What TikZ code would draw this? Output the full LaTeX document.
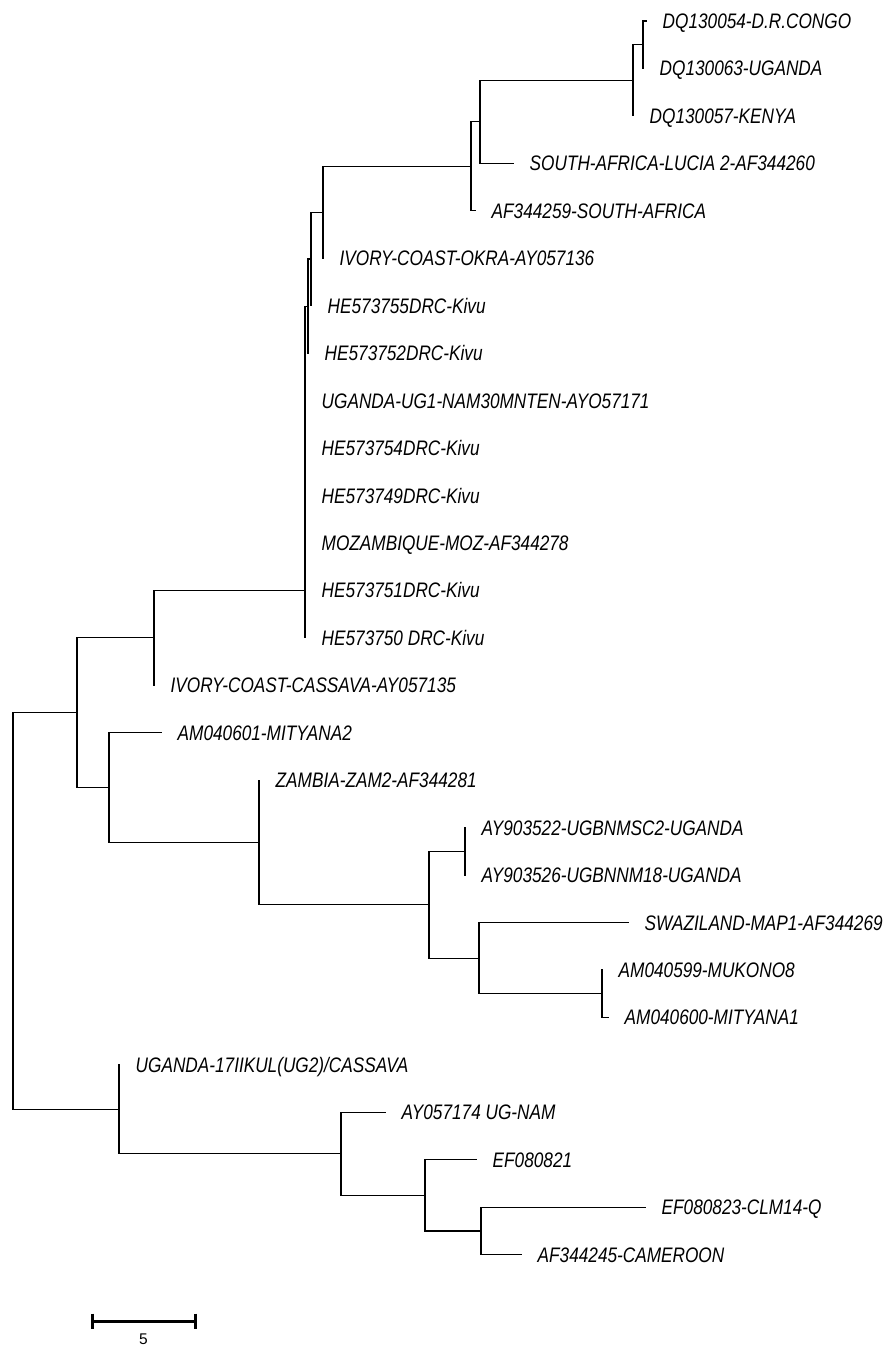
\documentclass[tikz,border=0pt]{standalone}
\usepackage{fontspec}
\setmainfont{Liberation Sans}
\newfontfamily\lblfont{Liberation Sans}[FakeStretch=0.82]
\newcommand\tipleaf[4]{%
  \coordinate (l#1) at (#2,#3);
  \node[lbl] (t#1) at ([xshift=16.5pt,yshift=-7.5pt]l#1) {#4};}
\tikzset{
  br/.style={line width=1.1pt, line cap=rect},
  lbl/.style={anchor=base west, inner sep=0pt, font=\lblfont\itshape\fontsize{21}{24}\selectfont},
  sbar/.style={line width=3pt},
}
\begin{document}
\begin{tikzpicture}[x=1pt,y=-1pt]
\useasboundingbox (0,0) rectangle (884,1345);
\fill[white] (0,0) rectangle (884,1345);
% leaves
\tipleaf{0}{646}{21.0}{DQ130054-D.R.CONGO}
\tipleaf{1}{643}{68.45}{DQ130063-UGANDA}
\tipleaf{2}{633}{115.9}{DQ130057-KENYA}
\tipleaf{3}{513}{163.35}{SOUTH-AFRICA-LUCIA 2-AF344260}
\tipleaf{4}{475}{210.8}{AF344259-SOUTH-AFRICA}
\tipleaf{5}{323}{258.25}{IVORY-COAST-OKRA-AY057136}
\tipleaf{6}{311}{305.7}{HE573755DRC-Kivu}
\tipleaf{7}{308}{353.15}{HE573752DRC-Kivu}
\tipleaf{8}{305}{400.6}{UGANDA-UG1-NAM30MNTEN-AYO57171}
\tipleaf{9}{305}{448.05}{HE573754DRC-Kivu}
\tipleaf{10}{305}{495.5}{HE573749DRC-Kivu}
\tipleaf{11}{305}{542.95}{MOZAMBIQUE-MOZ-AF344278}
\tipleaf{12}{305}{590.4}{HE573751DRC-Kivu}
\tipleaf{13}{305}{637.85}{HE573750 DRC-Kivu}
\tipleaf{14}{154}{685.3}{IVORY-COAST-CASSAVA-AY057135}
\tipleaf{15}{161}{732.75}{AM040601-MITYANA2}
\tipleaf{16}{259}{780.2}{ZAMBIA-ZAM2-AF344281}
\tipleaf{17}{465}{827.65}{AY903522-UGBNMSC2-UGANDA}
\tipleaf{18}{465}{875.1}{AY903526-UGBNNM18-UGANDA}
\tipleaf{19}{628}{922.55}{SWAZILAND-MAP1-AF344269}
\tipleaf{20}{602}{970.0}{AM040599-MUKONO8}
\tipleaf{21}{608}{1017.45}{AM040600-MITYANA1}
\tipleaf{22}{119}{1064.9}{UGANDA-17IIKUL(UG2)/CASSAVA}
\tipleaf{23}{385}{1112.35}{AY057174 UG-NAM}
\tipleaf{24}{476}{1159.8}{EF080821}
\tipleaf{25}{645}{1207.25}{EF080823-CLM14-Q}
\tipleaf{26}{521}{1254.7}{AF344245-CAMEROON}
% internal nodes
\coordinate (A) at (643,44.7);
\coordinate (B) at (633,80.3);
\coordinate (C) at (480,121.8);
\coordinate (D) at (471,166.3);
\coordinate (E) at (323,212.3);
\coordinate (F) at (311,259.0);
\coordinate (G) at (308,306.1);
\coordinate (H) at (305,590.4);
\coordinate (N1) at (154,637.9);
\coordinate (R1) at (77,712.8);
\coordinate (N2) at (109,787.6);
\coordinate (N3) at (259,842.5);
\coordinate (N4) at (429,904.8);
\coordinate (N5) at (465,851.4);
\coordinate (N6) at (479,958.1);
\coordinate (N7) at (602,993.7);
\coordinate (root) at (13,911.1);
\coordinate (N11) at (119,1109.4);
\coordinate (N8) at (341,1153.9);
\coordinate (N9) at (425,1195.4);
\coordinate (N10) at (481,1231.0);
% branches
\draw[br] (l0) -| (A) |- (l1);
\draw[br] (A) -| (B) |- (l2);
\draw[br] (B) -| (C) |- (l3);
\draw[br] (C) -| (D) |- (l4);
\draw[br] (D) -| (E) |- (l5);
\draw[br] (E) -| (F) |- (l6);
\draw[br] (F) -| (G) |- (l7);
\draw[br] (G) -| (H) |- (l13);
\draw[br] (H) -| (N1) |- (l14);
\draw[br] (N1) -| (R1) |- (N2);
\draw[br] (l15) -| (N2) |- (N3);
\draw[br] (l16) -| (N3) |- (N4);
\draw[br] (N5) -| (N4) |- (N6);
\draw[br] (l17) -| (N5) |- (l18);
\draw[br] (l19) -| (N6) |- (N7);
\draw[br] (l20) -| (N7) |- (l21);
\draw[br] (R1) -| (root) |- (N11);
\draw[br] (l22) -| (N11) |- (N8);
\draw[br] (l23) -| (N8) |- (N9);
\draw[br] (l24) -| (N9) |- (N10);
\draw[br] (l25) -| (N10) |- (l26);
% scale bar
\coordinate (sb1) at (92,1321);
\coordinate (sb2) at (195,1321);
\draw[sbar] (sb1) -- (sb2);
\draw[sbar] ([yshift=7.5pt]sb1) -- ([yshift=-7.5pt]sb1);
\draw[sbar] ([yshift=7.5pt]sb2) -- ([yshift=-7.5pt]sb2);
\node[inner sep=0pt, anchor=base, font=\fontsize{15.5}{18}\selectfont] (sblbl) at (143.5,1344) {5};
\end{tikzpicture}
\end{document}
